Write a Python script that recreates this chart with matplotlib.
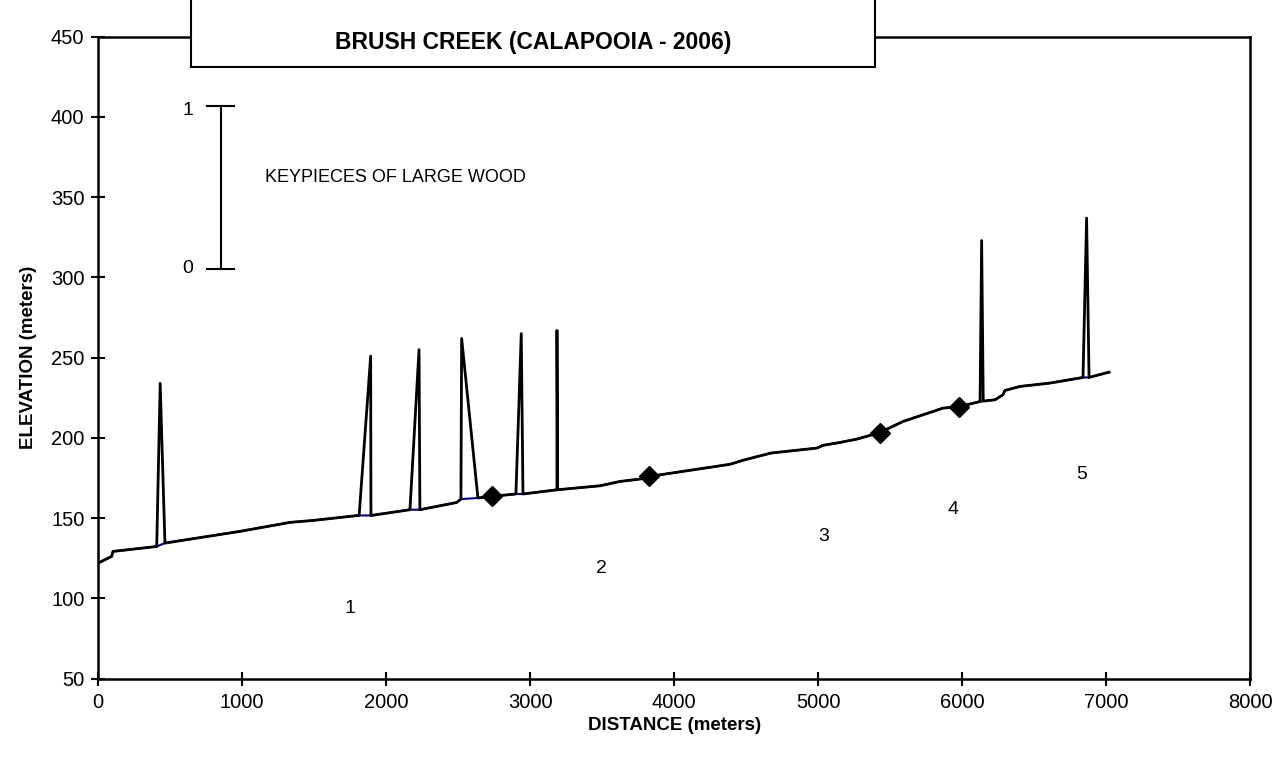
import numpy as np
import matplotlib
matplotlib.use("Agg")
from matplotlib import pyplot as plt
from matplotlib.patches import Rectangle

plt.rcParams['font.family'] = ['Liberation Sans', 'DejaVu Sans']

# longitudinal profile (distance m, elevation m)
profile_x = [0, 93, 102, 406, 463, 984, 1332, 1491, 1804, 1894, 2165, 2234, 2489, 2519,
             2637, 2734, 2901, 2950, 3186, 3485, 3624, 3763, 3826, 4062, 4389, 4478, 4673,
             4992, 5034, 5152, 5270, 5430, 5590, 5798, 5868, 5972, 6125, 6229, 6284, 6298,
             6402, 6611, 6840, 6882, 7021]
profile_y = [122.1, 126.2, 129.3, 132.4, 134.5, 141.8, 147.4, 148.6, 151.7, 151.7, 155.3,
             155.3, 159.8, 161.9, 162.6, 163.6, 165.1, 165.1, 167.7, 170.2, 172.9, 174.4,
             176.0, 179.2, 183.6, 186.1, 190.6, 193.7, 195.4, 197.2, 199.3, 203.4, 210.3,
             216.5, 218.6, 219.4, 222.7, 223.8, 226.9, 229.6, 232.1, 234.2, 237.7, 237.7, 241.0]

# large wood spikes: left base, peak, right base, peak elevation
wood_left = [406, 1812, 2161, 2517, 2901, 3181, 6120, 6840]
wood_peak = [430, 1892, 2228, 2524, 2938, 3186, 6136, 6865]
wood_right = [463, 1894, 2240, 2640, 2952, 3191, 6147, 6882]
wood_top = [234, 251, 255, 262, 265, 267, 323, 337]

# reach break markers
break_x = [2734, 3826, 5430, 5979]
break_y = [163.6, 176.1, 203.0, 219.0]

# reach labels
reach_names = ['1', '2', '3', '4', '5']
reach_x = [1750, 3493, 5041, 5937, 6833]
reach_y = [94, 118.5, 138.5, 155.3, 177]

# keypiece scale bar
scale_x = 852
scale_bottom = 305.5
scale_top = 406.8

# wood line follows the profile, with the spikes put in
pts = list(zip(profile_x, profile_y))
for l, p, r, t in zip(wood_left, wood_peak, wood_right, wood_top):
    pts += [(l, np.interp(l, profile_x, profile_y)), (p, t),
            (r, np.interp(r, profile_x, profile_y))]
pts.sort(key=lambda q: q[0])
line_x = [q[0] for q in pts]
line_y = [q[1] for q in pts]

fig = plt.figure(figsize=(12.88, 7.65), dpi=100)
ax = fig.add_axes([0.0763, 0.1128, 0.8942, 0.8392])

ax.plot(profile_x, profile_y, color='#000080', lw=1.5, zorder=2)
ax.plot(line_x, line_y, color='black', lw=2, zorder=3)
ax.plot(break_x, break_y, 'D', color='black', markersize=10, zorder=4)

for name, x_, y_ in zip(reach_names, reach_x, reach_y):
    ax.text(x_, y_, name, fontsize=14, ha='center', va='center')

# scale bar
ax.plot([scale_x, scale_x], [scale_bottom, scale_top], color='black', lw=1.5)
ax.plot([scale_x - 94, scale_x + 94], [scale_top, scale_top], color='black', lw=1.5)
ax.plot([scale_x - 94, scale_x + 94], [scale_bottom, scale_bottom], color='black', lw=1.5)
ax.text(scale_x - 230, scale_top - 3, '1', fontsize=14, ha='center', va='center')
ax.text(scale_x - 230, scale_bottom, '0', fontsize=14, ha='center', va='center')
ax.text(1157, 362, 'KEYPIECES OF LARGE WOOD', fontsize=13, ha='left', va='center')

ax.set_xlim(0, 8000)
ax.set_ylim(50, 450)
ax.set_xticks(np.arange(0, 8001, 1000))
ax.set_yticks(np.arange(50, 451, 50))
ax.tick_params(direction='inout', length=10, width=1.5, labelsize=14.5, pad=5)
for s in ax.spines.values():
    s.set_linewidth(1.8)
ax.set_xlabel('DISTANCE (meters)', fontsize=13.5, fontweight='bold', labelpad=4)
ax.set_ylabel('ELEVATION (meters)', fontsize=13.5, fontweight='bold', labelpad=10)

# title box
box = Rectangle((0.1483, 0.9128), 0.531, 0.12, transform=fig.transFigure,
                facecolor='white', edgecolor='black', lw=1.5, zorder=10)
fig.patches.append(box)
fig.text(0.4138, 0.945, 'BRUSH CREEK (CALAPOOIA - 2006)', fontsize=16.5,
         fontweight='bold', ha='center', va='center', zorder=11)

fig.savefig('out.png', dpi=100)
